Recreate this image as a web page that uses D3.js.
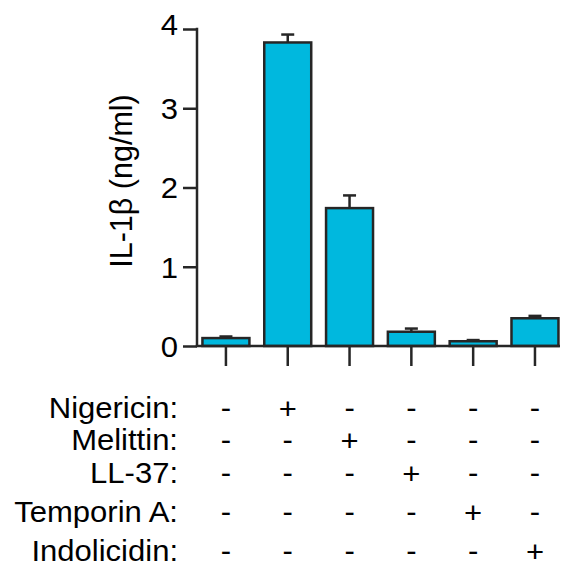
<!DOCTYPE html>
<html>
<head>
<meta charset="utf-8">
<script src="https://cdn.jsdelivr.net/npm/d3@7"></script>
<style>
  html, body { margin: 0; padding: 0; background: #fff; }
  svg { display: block; }
  text { font-family: "Liberation Sans", Arial, sans-serif; fill: #000; }
</style>
</head>
<body>
<svg id="chart" width="561" height="573"></svg>
<script>
// ---- data ----
const groups = ["G1", "G2", "G3", "G4", "G5", "G6"];
const values = [0.10, 3.83, 1.74, 0.18, 0.06, 0.35];
const errors = [0.02, 0.10, 0.16, 0.04, 0.015, 0.03];
const yTicks = [0, 1, 2, 3, 4];
const yLabel = "IL-1β (ng/ml)";
const treatments = ["Nigericin:", "Melittin:", "LL-37:", "Temporin A:", "Indolicidin:"];
const signs = [
  ["-", "+", "-", "-", "-", "-"],
  ["-", "-", "+", "-", "-", "-"],
  ["-", "-", "-", "+", "-", "-"],
  ["-", "-", "-", "-", "+", "-"],
  ["-", "-", "-", "-", "-", "+"]
];

// ---- layout ----
const svg = d3.select("#chart");
const axisX = 197, axisRight = 560;
const y = d3.scaleLinear().domain([0, 4]).range([346, 29]);
const x = d3.scaleBand().domain(groups).range([197.5, 563.4]).paddingInner(0.24).paddingOuter(0.08);
const ink = "#262626";
const barColor = "#00b8de";
const stretch = 1.07;

// y axis
const yAxis = d3.axisLeft(y).tickValues(yTicks).tickSize(14).tickPadding(6).tickFormat(d3.format("d"));
const gy = svg.append("g").attr("transform", `translate(${axisX},0)`).call(yAxis);
gy.select(".domain").remove();
gy.selectAll(".tick line").attr("stroke", ink).attr("stroke-width", 2.5);
gy.selectAll(".tick text").remove();
gy.selectAll(".tick").append("text")
  .attr("transform", d => `translate(-19,${d === 4 ? -5 : 0}) scale(${stretch},1)`)
  .attr("dy", "0.36em")
  .attr("text-anchor", "end")
  .attr("font-size", 29)
  .attr("fill", "#000")
  .attr("font-family", "Liberation Sans, Arial, sans-serif")
  .text(d => d3.format("d")(d));
svg.append("line").attr("x1", axisX).attr("x2", axisX).attr("y1", y(4) - 1.2).attr("y2", y(0))
  .attr("stroke", ink).attr("stroke-width", 2.5);

// y label
svg.append("text")
  .attr("transform", `translate(132,181) rotate(-90)`)
  .attr("text-anchor", "middle")
  .attr("font-size", 30.5)
  .text(yLabel);

// bars
const bars = svg.append("g");
bars.selectAll("rect").data(groups).join("rect")
  .attr("x", d => x(d))
  .attr("width", x.bandwidth())
  .attr("y", (d, i) => y(values[i]))
  .attr("height", (d, i) => y(0) - y(values[i]))
  .attr("fill", barColor)
  .attr("stroke", ink)
  .attr("stroke-width", 2.5);

// error bars (upper only)
const eb = svg.append("g").attr("stroke", ink).attr("stroke-width", 2.5);
groups.forEach((g, i) => {
  const cx = x(g) + x.bandwidth() / 2;
  eb.append("line").attr("x1", cx).attr("x2", cx)
    .attr("y1", y(values[i])).attr("y2", y(values[i] + errors[i]));
  eb.append("line").attr("x1", cx - 6.5).attr("x2", cx + 6.5)
    .attr("y1", y(values[i] + errors[i])).attr("y2", y(values[i] + errors[i]));
});

// x axis
const xAxis = d3.axisBottom(x).tickSize(20).tickFormat("");
const gx = svg.append("g").attr("transform", `translate(0,${y(0)})`).call(xAxis);
gx.select(".domain").remove();
gx.selectAll(".tick line").attr("stroke", ink).attr("stroke-width", 2.5);
svg.append("line").attr("x1", axisX - 1.2).attr("x2", axisRight).attr("y1", y(0)).attr("y2", y(0))
  .attr("stroke", ink).attr("stroke-width", 2.5);

// treatment table
const rowBaselines = [417.5, 449.5, 483, 522, 561];
const table = svg.append("g");
treatments.forEach((t, r) => {
  table.append("text")
    .attr("transform", `translate(178,${rowBaselines[r]}) scale(${stretch},1)`)
    .attr("text-anchor", "end")
    .attr("font-size", 29)
    .text(t);
  signs[r].forEach((s, c) => {
    table.append("text")
      .attr("transform", `translate(${x(groups[c]) + x.bandwidth() / 2},${rowBaselines[r] + (s === "+" ? 1 : 0)}) scale(${stretch},1)`)
      .attr("text-anchor", "middle")
      .attr("font-size", 29)
      .text(s);
  });
});
</script>
</body>
</html>
